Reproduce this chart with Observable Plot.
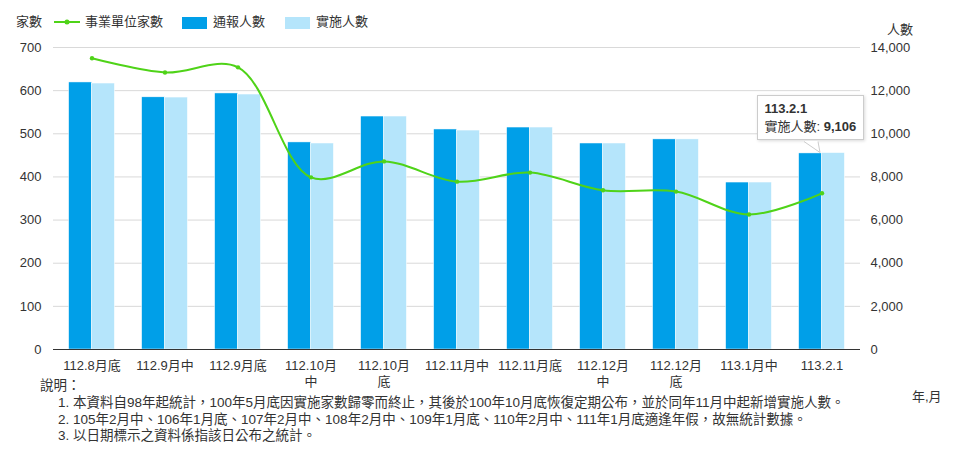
<!DOCTYPE html>
<html><head><meta charset="utf-8">
<script src="https://cdn.jsdelivr.net/npm/d3@7"></script>
<script src="https://cdn.jsdelivr.net/npm/@observablehq/plot@0.6"></script>
<style>
body{margin:0;background:#fff;font-family:"Liberation Sans",Arial,"Noto Sans CJK TC",sans-serif;color:#333;}
#wrap{position:relative;width:960px;height:452px;overflow:hidden;}
#wrap svg{position:absolute;left:0;top:0;}
.abs{position:absolute;white-space:nowrap;font-size:13px;line-height:16px;color:#333;}
.note{font-size:13.5px;}
.sw{position:absolute;width:25px;height:12px;}
#tip{position:absolute;background:#fff;border:1px solid #ccc;box-shadow:1px 1px 3px rgba(0,0,0,0.15);font-size:13px;line-height:18px;padding:4px 7px 3px 7px;white-space:nowrap;color:#333;}
</style></head><body>
<div id="wrap"></div>
<script>
const categories = ["112.8月底","112.9月中","112.9月底","112.10月中","112.10月底","112.11月中","112.11月底","112.12月中","112.12月底","113.1月中","113.2.1"];
const tickLabels = ["112.8月底","112.9月中","112.9月底","112.10月\n中","112.10月\n底","112.11月中","112.11月底","112.12月\n中","112.12月\n底","113.1月中","113.2.1"];
const firms = [675, 642, 654, 399, 436, 389, 410, 369, 366, 313, 362];      // 事業單位家數 (left axis)
const reported = [12380, 11690, 11870, 9600, 10800, 10200, 10290, 9550, 9740, 7740, 9090]; // 通報人數 (right axis)
const implemented = [12330, 11680, 11820, 9550, 10800, 10150, 10290, 9550, 9740, 7740, 9106]; // 實施人數 (right axis)
const leftTicks = [0,100,200,300,400,500,600,700];
const notes = [
  "1. 本資料自98年起統計，100年5月底因實施家數歸零而終止，其後於100年10月底恢復定期公布，並於同年11月中起新增實施人數。",
  "2. 105年2月中、106年1月底、107年2月中、108年2月中、109年1月底、110年2月中、111年1月底適逢年假，故無統計數據。",
  "3. 以日期標示之資料係指該日公布之統計。"
];

const DARK = "#009fe8", LIGHT = "#b5e5fb", GREEN = "#4fd318";
const ratio = 20; // right axis = left axis × 20
const data = categories.map((c,i)=>({cat:c, firms:firms[i], rep:reported[i], imp:implemented[i]}));
const off = 11.4;

const plot = Plot.plot({
  width: 960, height: 452,
  marginTop: 47, marginBottom: 103, marginLeft: 53, marginRight: 100,
  style: {fontFamily: '"Liberation Sans",Arial,"Noto Sans CJK TC",sans-serif', fontSize: "13px", color: "#333"},
  x: {domain: categories, paddingInner: 0.69, paddingOuter: 0.345},
  y: {domain: [0, 700]},
  marks: [
    Plot.ruleY(leftTicks.slice(1), {stroke: "#d9d9d9", strokeWidth: 1}),
    Plot.barY(data, {x: "cat", y: d => d.rep/ratio, fill: DARK, dx: -off, stroke: "#fff", strokeWidth: 0.5}),
    Plot.barY(data, {x: "cat", y: d => d.imp/ratio, fill: LIGHT, dx: off, stroke: "#fff", strokeWidth: 0.5}),
    Plot.ruleY([0], {stroke: "#333", strokeWidth: 1}),
    Plot.line(data, {x: "cat", y: "firms", curve: "catmull-rom", stroke: GREEN, strokeWidth: 2}),
    Plot.dot(data, {x: "cat", y: "firms", r: 2.2, fill: GREEN}),
    Plot.axisY({ticks: leftTicks, tickSize: 0, tickPadding: 12, label: null, fontSize: 13, fill: "#333"}),
    Plot.axisY({anchor: "right", ticks: leftTicks, tickSize: 0, tickPadding: 10, label: null, fontSize: 13, fill: "#333", tickFormat: d => d3.format(",")(d*ratio)}),
    Plot.axisX({tickSize: 0, tickPadding: 9, label: null, fontSize: 13, fill: "#333", lineHeight: 1.25, tickFormat: d => tickLabels[categories.indexOf(d)]})
  ]
});
const wrap = document.getElementById("wrap");
wrap.appendChild(plot);

function add(html, css, cls="abs"){const e=document.createElement("div");e.className=cls;e.innerHTML=html;Object.assign(e.style,css);wrap.appendChild(e);return e;}
// axis titles
add("家數",{left:"16px",top:"14px"});
add("人數",{left:"887px",top:"22px"});
add("年,月",{left:"912px",top:"389px"});
// legend
const lg = document.createElement("div");
lg.className="abs"; Object.assign(lg.style,{left:"54px",top:"15px"});
lg.innerHTML = `<svg width="26" height="14" style="position:absolute;left:0;top:0"><line x1="0" x2="26" y1="7" y2="7" stroke="${GREEN}" stroke-width="2"/><circle cx="13" cy="7" r="2.5" fill="${GREEN}"/></svg>`;
wrap.appendChild(lg);
add("事業單位家數",{left:"85px",top:"14px"});
add("",{left:"182px",top:"17px",background:DARK},"sw");
add("通報人數",{left:"213px",top:"14px"});
add("",{left:"285px",top:"17px",background:LIGHT},"sw");
add("實施人數",{left:"316px",top:"14px"});
// notes
add("說明：",{left:"40px",top:"378px"},"abs note");
notes.forEach((t,i)=>add(t,{left:"58px",top:(395+i*16.5)+"px"},"abs note"));
// tooltip on last bar
const xs = plot.scale("x"), ys = plot.scale("y");
const last = data[data.length-1];
const tx = xs.apply(last.cat) + xs.bandwidth/2;
const ty = ys.apply(last.imp/ratio);
const tip = add(`<b>${last.cat}</b><br>實施人數: <b>${d3.format(",")(last.imp)}</b>`,{left:(tx-65)+"px",top:(ty-58)+"px"},"");
tip.id="tip";
const ptr = document.createElementNS("http://www.w3.org/2000/svg","svg");
ptr.setAttribute("width","30");ptr.setAttribute("height","14");
Object.assign(ptr.style,{position:"absolute",left:(tx-18)+"px",top:(ty-12)+"px"});
ptr.innerHTML=`<path d="M0,0 L16,11.5 L14,0 Z" fill="#fff"/><path d="M0,0.5 L16,11.5 L14,0.5" fill="none" stroke="#ccc"/>`;
wrap.appendChild(ptr);
</script>
</body></html>
